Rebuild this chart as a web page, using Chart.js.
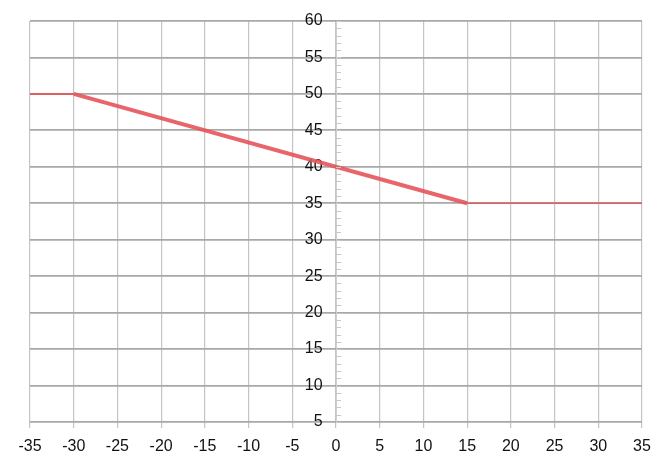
<!DOCTYPE html>
<html>
<head>
<meta charset="utf-8">
<script src="https://cdn.jsdelivr.net/npm/chart.js@4/dist/chart.umd.min.js"></script>
<style>
  html, body { margin: 0; padding: 0; background: #fff; }
  #wrap { width: 671px; height: 464px; }
</style>
</head>
<body>
<div id="wrap"><canvas id="chart" width="671" height="464"></canvas></div>
<script>
// data
const xValues = [-35, -30, 15, 35];
const yValues = [50, 50, 35, 35];
const xTicks = [-35, -30, -25, -20, -15, -10, -5, 0, 5, 10, 15, 20, 25, 30, 35];
const yTicks = [5, 10, 15, 20, 25, 30, 35, 40, 45, 50, 55, 60];

const points = xValues.map((x, i) => ({ x: x, y: yValues[i] }));

// small ticks on the centre axis, one per unit
const minorTicks = {
  id: 'minorTicks',
  afterDatasetsDraw(chart) {
    const ctx = chart.ctx;
    const xs = chart.scales.x, ys = chart.scales.y;
    const x0 = xs.getPixelForValue(0);
    ctx.save();
    ctx.strokeStyle = '#c8c8c8';
    ctx.lineWidth = 1;
    for (let v = ys.min; v <= ys.max; v++) {
      const py = Math.round(ys.getPixelForValue(v)) + 0.5;
      ctx.beginPath();
      ctx.moveTo(x0, py);
      ctx.lineTo(x0 + 5, py);
      ctx.stroke();
    }
    ctx.restore();
  }
};

new Chart(document.getElementById('chart'), {
  type: 'scatter',
  data: {
    datasets: [{
      data: points,
      showLine: true,
      borderColor: 'rgba(230, 85, 90, 0.9)',
      borderWidth: 2,
      pointRadius: 0,
      segment: {
        borderWidth: c => c.p0DataIndex === 1 ? 4 : (c.p0DataIndex === 0 ? 2 : 1.5)
      }
    }]
  },
  plugins: [minorTicks],
  options: {
    responsive: false,
    animation: false,
    layout: { padding: { left: 30, right: 29, top: 21, bottom: 0 } },
    plugins: { legend: { display: false }, tooltip: { enabled: false } },
    scales: {
      x: {
        type: 'linear',
        min: -35, max: 35,
        afterBuildTicks: s => { s.ticks = xTicks.map(v => ({ value: v })); },
        afterFit: s => { s.height = 42; },
        grid: { color: '#c4c4c4', lineWidth: 1.2, tickLength: 6 },
        border: { display: false },
        ticks: { color: '#111', font: { family: 'Liberation Sans, Arial', size: 16 }, padding: 9, maxRotation: 0 }
      },
      y: {
        type: 'linear',
        position: { x: 0 },
        min: 5, max: 60,
        afterBuildTicks: s => { s.ticks = yTicks.map(v => ({ value: v })); },
        grid: { color: '#a8a8a8', lineWidth: 1.8, drawTicks: false },
        border: { color: '#cfcfcf', width: 1 },
        ticks: {
          color: '#111',
          font: { family: 'Liberation Sans, Arial', size: 16 },
          callback: v => v + '   '
        }
      }
    }
  }
});
</script>
</body>
</html>
